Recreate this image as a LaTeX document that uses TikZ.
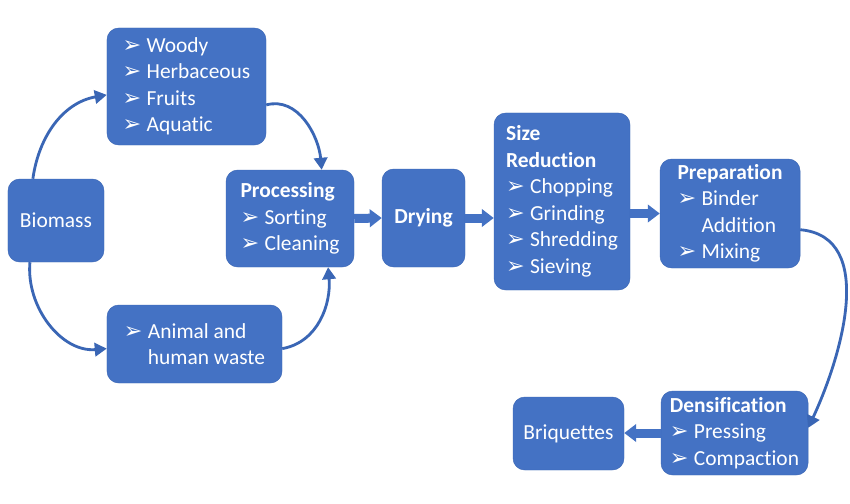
\documentclass[tikz,border=0pt]{standalone}
\usepackage{fontspec}
\setmainfont{Carlito}[Ligatures=NoCommon]
\newfontfamily\dejavu{DejaVu Sans}
\usetikzlibrary{arrows.meta}

\definecolor{boxblue}{HTML}{4472C4}
\definecolor{lineblue}{HTML}{3A66B5}

\newcommand{\bul}{{\dejavu\fontsize{19}{19}\selectfont ➢}\hspace{0.25em}}
\newcommand{\bulgap}{\phantom{\bul}}

\begin{document}
\begin{tikzpicture}[
  x=0.03cm, y=0.03cm,
  font=\fontsize{18.3}{22.6}\selectfont,
  box/.style={draw=lineblue, fill=boxblue, rounded corners=10pt, text=white, align=left, inner sep=2pt},
  flow/.style={-{Triangle[length=0.36cm,width=0.52cm]}, line width=0.27cm, boxblue},
  loop/.style={-{Triangle[length=0.36cm,width=0.4cm]}, line width=2.4pt, lineblue}
]
\path[use as bounding box, fill=white] (0,0) rectangle (850,-503);

\node[box, minimum width=4.77cm, minimum height=3.51cm] (kinds) at (186.5,-86.5) {\bul Woody\\\bul Herbaceous\\\bul Fruits\\\bul Aquatic};
\node[box, minimum width=2.88cm, minimum height=2.49cm] (biomass) at (56,-220.5) {Biomass};
\node[box, minimum width=3.84cm, minimum height=2.91cm] (processing) at (290,-218.5) {\textbf{Processing}\\\bul Sorting\\\bul Cleaning};
\node[box, minimum width=5.25cm, minimum height=2.34cm] (waste) at (194.5,-344) {\bul Animal and\\\bulgap human waste};
\node[box, minimum width=2.49cm, minimum height=2.94cm] (drying) at (423.5,-218) {\textbf{Drying}};
\node[box, minimum width=4.08cm, minimum height=5.31cm] (size) at (562,-201.5) {\textbf{Size}\\\textbf{Reduction}\\\bul Chopping\\\bul Grinding\\\bul Shredding\\\bul Sieving};
\node[box, minimum width=4.2cm, minimum height=3.27cm] (prep) at (730,-213.5) {\textbf{Preparation}\\\bul Binder\\\bulgap Addition\\\bul Mixing};
\node[box, minimum width=4.41cm, minimum height=2.52cm] (dens) at (734.5,-433) {\textbf{Densification}\\\bul Pressing\\\bul Compaction};
\node[box, minimum width=3.33cm, minimum height=2.19cm] (briq) at (568.5,-433.5) {Briquettes};

% biomass loop
\draw[loop] (biomass.119) to[out=82, in=190] (kinds.186);
\draw[loop] (kinds.-13) to[out=15, in=95] (processing.57);
\draw[loop] (biomass.238) to[out=-95, in=185] (waste.183);
\draw[loop] (waste.-3) to[out=10, in=-85] (processing.-52);

% main line
\draw[flow] (processing.east) -- (drying.west);
\draw[flow] (drying.east) -- (drying.east -| size.west);
\draw[flow] (size.east |- prep.west) -- (prep.west);
\draw[loop] (prep.-13) to[out=-5, in=65] (dens.4);
\draw[flow] (dens.west) -- (dens.west -| briq.east);
\end{tikzpicture}
\end{document}
